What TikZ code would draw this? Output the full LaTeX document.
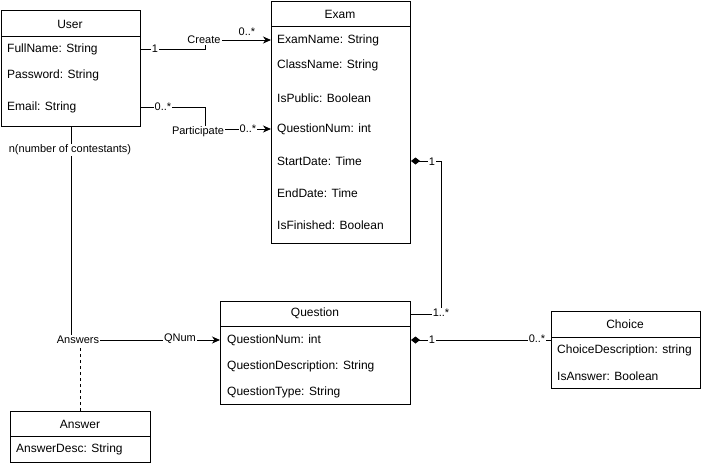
\documentclass[tikz,border=0pt]{standalone}
\usepackage{fontspec}
\setmainfont{Liberation Sans}
\usetikzlibrary{arrows.meta}
\begin{document}
\begin{tikzpicture}[x=1pt,y=-1pt,
 box/.style={draw=black, fill=white, line width=1pt, anchor=north west, inner sep=0pt},
 attr/.style={anchor=west, inner sep=0pt, font=\fontsize{12}{14}\selectfont},
 ttl/.style={inner sep=0pt, font=\fontsize{12}{14}\selectfont},
 lab/.style={fill=white, inner sep=1pt, font=\fontsize{11}{13}\selectfont},
 labn/.style={inner sep=1pt, font=\fontsize{11}{13}\selectfont},
 conn/.style={draw=black, line width=1pt},
 arr/.style={-{Stealth[length=8pt,width=7pt,inset=2.5pt]}},
 dia/.style={{Diamond[length=9pt,width=7pt]}-}]
\useasboundingbox (0,0) rectangle (701,466);
\fill[white] (0,0) rectangle (701,466);

% boxes
\node[box, minimum width=139pt, minimum height=116pt] (user) at (1,10) {};
\draw[line width=1pt] ([yshift=-26pt]user.north west) -- ([yshift=-26pt]user.north east);
\node[ttl] (uT) at (70,24) {User};
\node[attr] (uFull) at (7,49) {FullName: String};
\node[attr] (uPass) at (7,75) {Password: String};
\node[attr] (uEmail) at (7,107) {Email: String};

\node[box, minimum width=139pt, minimum height=242pt] (exam) at (271,1) {};
\draw[line width=1pt] ([yshift=-25pt]exam.north west) -- ([yshift=-25pt]exam.north east);
\node[ttl] (eT) at (340,14) {Exam};
\node[attr] (eName) at (277,40) {ExamName: String};
\node[attr] (eClass) at (277,65) {ClassName: String};
\node[attr] (ePub) at (277,98) {IsPublic: Boolean};
\node[attr] (eQNum) at (277,129) {QuestionNum: int};
\node[attr] (eStart) at (277,161) {StartDate: Time};
\node[attr] (eEnd) at (277,193) {EndDate: Time};
\node[attr] (eFin) at (277,225) {IsFinished: Boolean};

\node[box, minimum width=190pt, minimum height=103pt] (question) at (220,301) {};
\draw[line width=1pt] ([yshift=-25pt]question.north west) -- ([yshift=-25pt]question.north east);
\node[ttl] (qT) at (315,313) {Question};
\node[attr] (qNum) at (227,340) {QuestionNum: int};
\node[attr] (qDesc) at (227,366) {QuestionDescription: String};
\node[attr] (qType) at (227,392) {QuestionType: String};

\node[box, minimum width=140pt, minimum height=51pt] (answer) at (10,411) {};
\draw[line width=1pt] ([yshift=-25pt]answer.north west) -- ([yshift=-25pt]answer.north east);
\node[ttl] (aT) at (80,424) {Answer};
\node[attr] (aDesc) at (16,449) {AnswerDesc: String};

\node[box, minimum width=149pt, minimum height=77pt] (choice) at (551,311) {};
\draw[line width=1pt] ([yshift=-26pt]choice.north west) -- ([yshift=-26pt]choice.north east);
\node[ttl] (cT) at (625,324) {Choice};
\node[attr] (cDesc) at (557,350) {ChoiceDescription: string};
\node[attr] (cAns) at (557,376) {IsAnswer: Boolean};

% connectors
\coordinate (c1) at (205,40);
\coordinate (c2) at (205,129);
\coordinate (c3) at (441,314);
\draw[conn,arr] (user.east |- uFull) -| (c1) -- (exam.west |- eName);
\draw[conn,arr] (user.east |- uEmail) -| (c2) -- (exam.west |- eQNum);
\draw[conn,dia] (exam.east |- eStart) -| (c3) -- (question.east |- c3);
\draw[conn,dia] (question.east |- qNum) -- (choice.west |- qNum);
\draw[conn,arr] (user.south) |- (question.west |- qNum);

% labels
\node[lab] (l1) at (155,49) {1};
\node[lab] (lCreate) at (204,40) {Create};
\node[labn] (l2) at (247,32) {0..*};
\node[lab] (l3) at (163,107) {0..*};
\node[lab] (lPart) at (198,132) {Participate};
\node[lab] (l4) at (248,129) {0..*};
\node[lab] (l5) at (432,162) {1};
\node[lab] (l6) at (441,313) {1..*};
\node[lab] (l7) at (432,340) {1};
\node[lab] (l8) at (537,339) {0..*};
\node[lab] (lN) at (70,150) {n(number of contestants)};
\node[lab] (lAns) at (78,340) {Answers};
\node[lab] (lQ) at (180,339) {QNum};

\draw[conn,dash pattern=on 3pt off 3pt] (answer.north) -- (answer.north |- lAns.south);
\end{tikzpicture}
\end{document}
